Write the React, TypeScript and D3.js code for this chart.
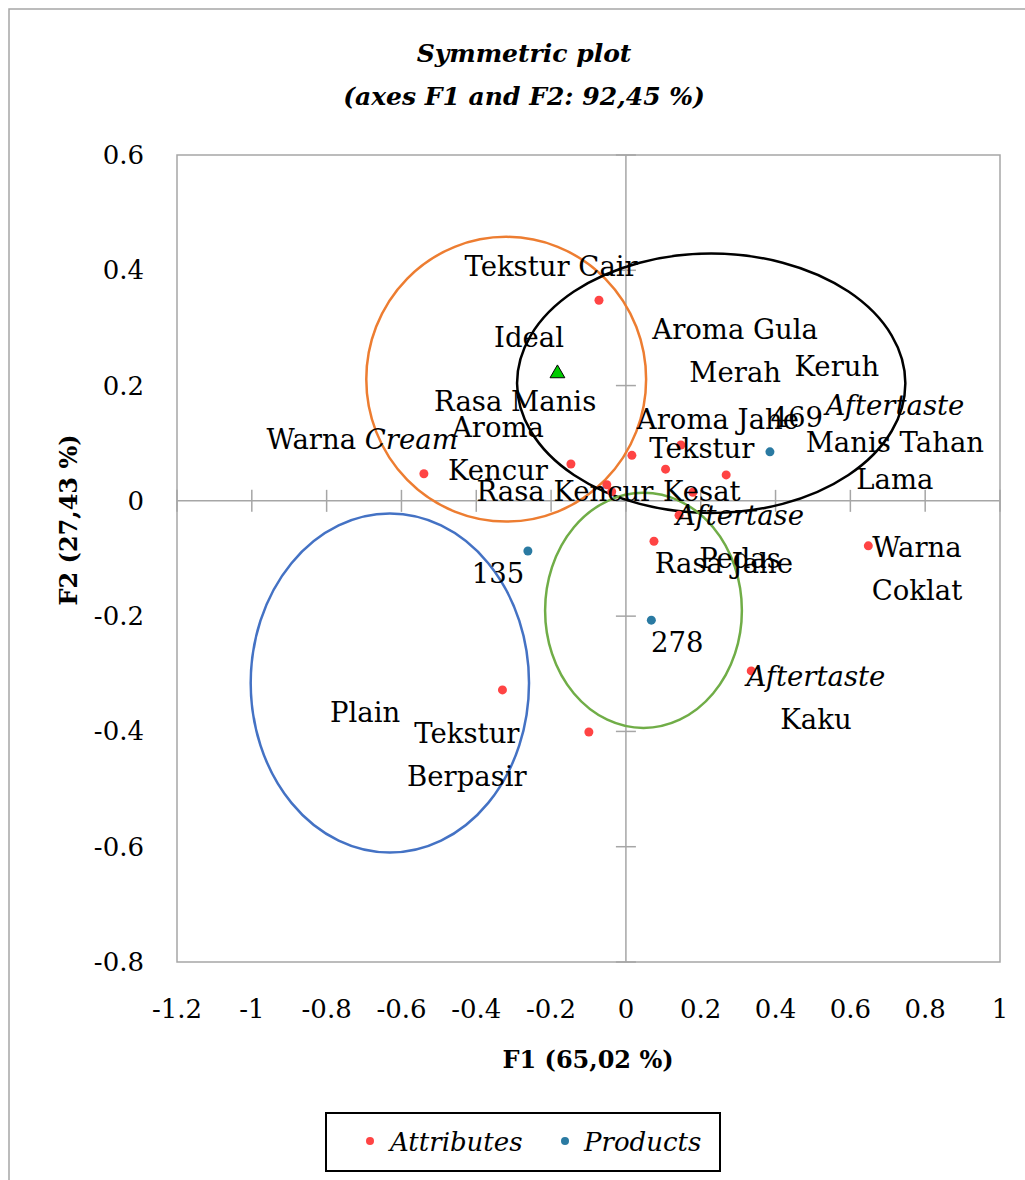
import React from 'react';
import * as d3 from 'd3';

// attribute coordinates (F1, F2)
const attributes = [
  { name: 'Tekstur Cair', f1: -0.072, f2: 0.348 },
  { name: 'Aroma Kencur', f1: -0.147, f2: 0.064 },
  { name: 'Warna Cream', f1: -0.54, f2: 0.047 },
  { name: 'Rasa Manis', f1: -0.051, f2: 0.028 },
  { name: 'Rasa Kencur', f1: -0.038, f2: 0.016 },
  { name: 'Aroma Gula Merah', f1: 0.016, f2: 0.079 },
  { name: 'Aroma Jahe', f1: 0.147, f2: 0.097 },
  { name: 'Tekstur', f1: 0.106, f2: 0.055 },
  { name: 'Keruh', f1: 0.268, f2: 0.045 },
  { name: 'Kesat', f1: 0.179, f2: 0.015 },
  { name: 'Aftertase Pedas', f1: 0.142, f2: -0.025 },
  { name: 'Rasa Jahe', f1: 0.075, f2: -0.07 },
  { name: 'Warna Coklat', f1: 0.648, f2: -0.078 },
  { name: 'Aftertaste Kaku', f1: 0.335, f2: -0.295 },
  { name: 'Plain', f1: -0.33, f2: -0.328 },
  { name: 'Tekstur Berpasir', f1: -0.099, f2: -0.401 },
];

const products = [
  { name: '469', f1: 0.385, f2: 0.085 },
  { name: '135', f1: -0.262, f2: -0.087 },
  { name: '278', f1: 0.068, f2: -0.207 },
];

const ideal = { name: 'Ideal', f1: -0.183, f2: 0.221 };

// label anchors in F1/F2 units; *text* = italic
const labels = [
  { lines: ['Tekstur Cair'], f1: -0.2, f2: 0.39 },
  { lines: ['Ideal'], f1: -0.259, f2: 0.267 },
  { lines: ['Aroma Gula', 'Merah'], f1: 0.292, f2: 0.281 },
  { lines: ['Keruh'], f1: 0.564, f2: 0.217 },
  { lines: ['Rasa Manis'], f1: -0.296, f2: 0.156 },
  { lines: ['Aroma', 'Kencur'], f1: -0.342, f2: 0.111 },
  { lines: ['Warna *Cream*'], f1: -0.705, f2: 0.09 },
  { lines: ['Aroma Jahe'], f1: 0.246, f2: 0.125 },
  { lines: ['469'], f1: 0.457, f2: 0.128 },
  { lines: ['*Aftertaste*', 'Manis Tahan', 'Lama'], f1: 0.719, f2: 0.149, gap: 37 },
  { lines: ['Tekstur'], f1: 0.203, f2: 0.074 },
  { lines: ['Rasa Kencur'], f1: -0.163, f2: 0.0 },
  { lines: ['Kesat'], f1: 0.203, f2: 0.0 },
  { lines: ['*Aftertase*', 'Pedas'], f1: 0.305, f2: -0.042 },
  { lines: ['Rasa Jahe'], f1: 0.262, f2: -0.125 },
  { lines: ['Warna', 'Coklat'], f1: 0.778, f2: -0.097 },
  { lines: ['135'], f1: -0.342, f2: -0.142 },
  { lines: ['278'], f1: 0.137, f2: -0.262 },
  { lines: ['*Aftertaste*', 'Kaku'], f1: 0.508, f2: -0.321 },
  { lines: ['Plain'], f1: -0.697, f2: -0.383 },
  { lines: ['Tekstur', 'Berpasir'], f1: -0.425, f2: -0.42 },
];

// grouping ellipses (centre and radii in F1/F2 units)
const groups = [
  { color: '#ED7D31', f1: -0.32, f2: 0.211, r1: 0.374, r2: 0.247 },
  { color: '#000000', f1: 0.228, f2: 0.204, r1: 0.519, r2: 0.225 },
  { color: '#4472C4', f1: -0.631, f2: -0.316, r1: 0.372, r2: 0.294 },
  { color: '#70AD47', f1: 0.047, f2: -0.19, r1: 0.263, r2: 0.204 },
];

const xTicks = [-1.2, -1, -0.8, -0.6, -0.4, -0.2, 0, 0.2, 0.4, 0.6, 0.8, 1];
const yTicks = [-0.8, -0.6, -0.4, -0.2, 0, 0.2, 0.4, 0.6];

const W = 1025;
const H = 1180;
const plot = { left: 177, right: 1000, top: 155, bottom: 962 };
const FONT = '"DejaVu Serif", serif';
const RED = '#FF4444';
const BLUE = '#2A7AA2';
const GRID = '#A6A6A6';

const fmt = (v: number) => String(Math.round(v * 10) / 10);

const Segments = ({ line }: { line: string }) => {
  const parts = line.split('*');
  return (
    <>
      {parts.map((p, i) =>
        p ? (
          <tspan key={i} fontStyle={i % 2 === 1 ? 'italic' : 'normal'}>
            {p}
          </tspan>
        ) : null
      )}
    </>
  );
};

export default function App() {
  const x = d3.scaleLinear().domain([-1.2, 1]).range([plot.left, plot.right]);
  const y = d3.scaleLinear().domain([-0.8, 0.6]).range([plot.bottom, plot.top]);
  const kx = x(1) - x(0);
  const ky = y(0) - y(1);

  const tri = d3.symbol().type(d3.symbolTriangle).size(95)();

  return (
    <div style={{ position: 'absolute', left: 0, top: 0 }}>
      <svg width={W} height={H} style={{ display: 'block', background: '#fff' }}>
        {/* outer frame */}
        <rect x={9} y={9} width={W + 20} height={H + 20} fill="none" stroke={GRID} strokeWidth={1.5} />

        {/* title */}
        <text x={524} y={62} textAnchor="middle" fontFamily={FONT} fontWeight="bold" fontStyle="italic" fontSize={25}>
          Symmetric plot
        </text>
        <text x={524} y={105} textAnchor="middle" fontFamily={FONT} fontWeight="bold" fontStyle="italic" fontSize={25}>
          (axes F1 and F2: 92,45 %)
        </text>

        {/* plot frame */}
        <rect
          x={plot.left}
          y={plot.top}
          width={plot.right - plot.left}
          height={plot.bottom - plot.top}
          fill="none"
          stroke={GRID}
          strokeWidth={1.5}
        />
        {/* zero axes */}
        <line x1={x(0)} x2={x(0)} y1={plot.top} y2={plot.bottom} stroke={GRID} strokeWidth={1.5} />
        <line x1={plot.left} x2={plot.right} y1={y(0)} y2={y(0)} stroke={GRID} strokeWidth={1.5} />
        {xTicks.map((t) => (
          <line key={'xt' + t} x1={x(t)} x2={x(t)} y1={y(0) - 11} y2={y(0) + 11} stroke={GRID} strokeWidth={1.5} />
        ))}
        {yTicks.map((t) => (
          <line key={'yt' + t} x1={x(0) - 10} x2={x(0) + 10} y1={y(t)} y2={y(t)} stroke={GRID} strokeWidth={1.5} />
        ))}

        {/* tick labels */}
        {xTicks.map((t) => (
          <text key={'xl' + t} x={x(t)} y={1018} textAnchor="middle" fontFamily={FONT} fontSize={26}>
            {fmt(t)}
          </text>
        ))}
        {yTicks.map((t) => (
          <text key={'yl' + t} x={144} y={y(t) + 9} textAnchor="end" fontFamily={FONT} fontSize={26}>
            {fmt(t)}
          </text>
        ))}

        {/* axis titles */}
        <text x={588} y={1068} textAnchor="middle" fontFamily={FONT} fontWeight="bold" fontSize={24}>
          F1 (65,02 %)
        </text>
        <text
          transform={`translate(77,520) rotate(-90)`}
          textAnchor="middle"
          fontFamily={FONT}
          fontWeight="bold"
          fontSize={24}
        >
          F2 (27,43 %)
        </text>

        {/* group ellipses */}
        {groups.map((g, i) => (
          <ellipse
            key={'g' + i}
            cx={x(g.f1)}
            cy={y(g.f2)}
            rx={g.r1 * kx}
            ry={g.r2 * ky}
            fill="none"
            stroke={g.color}
            strokeWidth={2.5}
          />
        ))}

        {/* points */}
        {attributes.map((d) => (
          <circle key={d.name} cx={x(d.f1)} cy={y(d.f2)} r={4.5} fill={RED} />
        ))}
        {products.map((d) => (
          <circle key={d.name} cx={x(d.f1)} cy={y(d.f2)} r={4.5} fill={BLUE} />
        ))}
        <path d={tri || ''} transform={`translate(${x(ideal.f1)},${y(ideal.f2)})`} fill="#00CC00" stroke="#000" strokeWidth={1} />

        {/* labels */}
        {labels.map((l, i) => (
          <text key={'l' + i} textAnchor="middle" fontFamily={FONT} fontSize={27.5}>
            {l.lines.map((ln, j) => (
              <tspan key={j} x={x(l.f1)} y={y(l.f2) + j * (l.gap || 43)}>
                <Segments line={ln} />
              </tspan>
            ))}
          </text>
        ))}

        {/* legend */}
        <rect x={326} y={1113} width={394} height={58} fill="#fff" stroke="#000" strokeWidth={2} />
        <circle cx={370} cy={1141} r={4} fill={RED} />
        <text x={390} y={1151} fontFamily={FONT} fontStyle="italic" fontSize={26}>
          Attributes
        </text>
        <circle cx={565} cy={1141} r={4} fill={BLUE} />
        <text x={584} y={1151} fontFamily={FONT} fontStyle="italic" fontSize={26}>
          Products
        </text>
      </svg>
    </div>
  );
}
